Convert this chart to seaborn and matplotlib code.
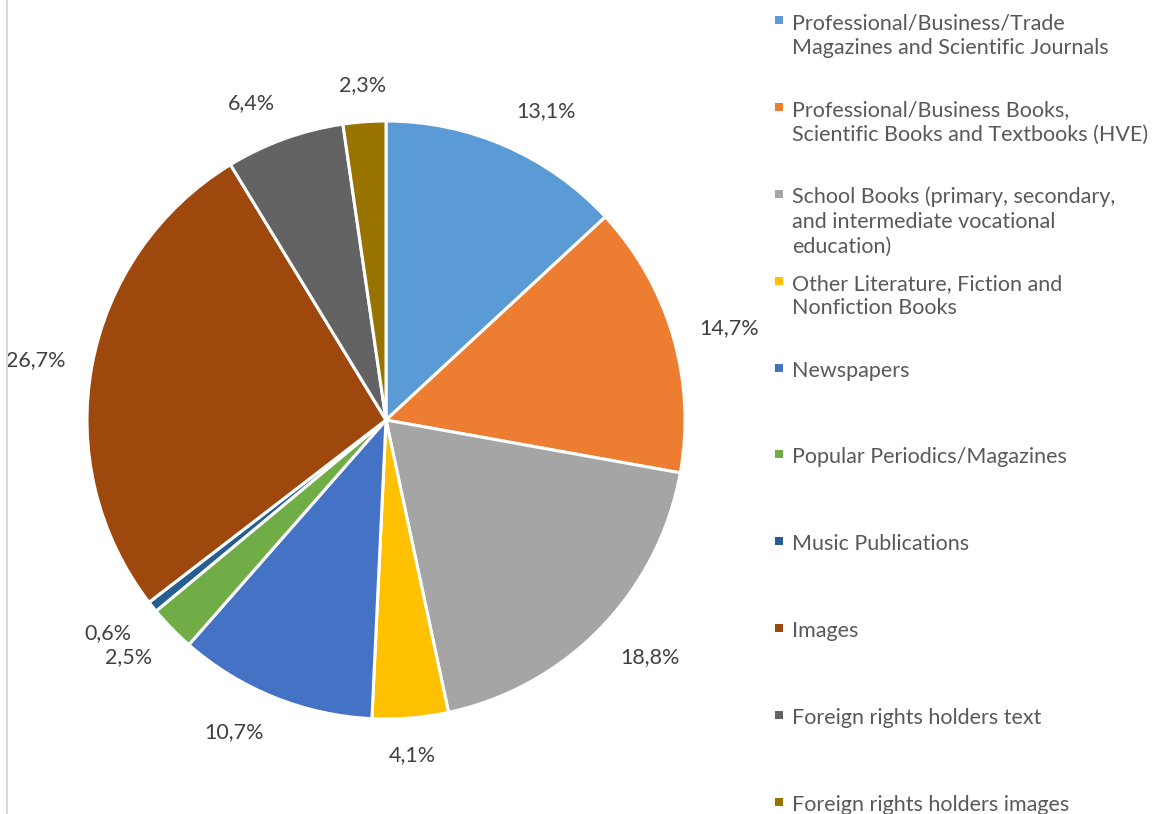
import numpy as np
import matplotlib
matplotlib.use("Agg")
import matplotlib.pyplot as plt
import seaborn as sns
from matplotlib.lines import Line2D
from matplotlib.patches import Rectangle

# Share of distributed reprographic revenue per rights-holder category
categories = [
    "Professional/Business/Trade\nMagazines and Scientific Journals",
    "Professional/Business Books,\nScientific Books and Textbooks (HVE)",
    "School Books (primary, secondary,\nand intermediate vocational\neducation)",
    "Other Literature, Fiction and\nNonfiction Books",
    "Newspapers",
    "Popular Periodics/Magazines",
    "Music Publications",
    "Images",
    "Foreign rights holders text",
    "Foreign rights holders images",
]
shares = [13.1, 14.7, 18.8, 4.1, 10.7, 2.5, 0.6, 26.7, 6.4, 2.3]
colors = ["#5B9BD5", "#ED7D31", "#A5A5A5", "#FFC000", "#4472C4",
          "#70AD47", "#255E91", "#9E480E", "#636363", "#997300"]

sns.set_theme(style="white")
plt.rcParams["font.family"] = ["Lato", "DejaVu Sans"]

W, H = 1156, 814
fig = plt.figure(figsize=(W / 100, H / 100), dpi=100)
fig.patch.set_facecolor("white")

# Pie axes: a square 600 px region centred on the left part of the canvas
cx, cy, r = 386, 420, 299
ax = fig.add_axes([(cx - r) / W, (H - cy - r) / H, 2 * r / W, 2 * r / H])

palette = sns.color_palette(colors)
wedges, _ = ax.pie(
    shares, colors=palette, startangle=90, counterclock=False, radius=1,
    wedgeprops=dict(edgecolor="white", linewidth=2.2),
)
ax.set_xlim(-1, 1)
ax.set_ylim(-1, 1)
ax.axis("off")

# Percentage labels just outside each wedge, aligned away from the pie
dist = 1.09
for w, v in zip(wedges, shares):
    ang = np.deg2rad((w.theta1 + w.theta2) / 2)
    c, s = np.cos(ang), np.sin(ang)
    ha = "left" if c > 0.3 else ("right" if c < -0.3 else "center")
    va = "bottom" if s > 0.3 else ("top" if s < -0.3 else "center")
    ax.text(dist * c, dist * s, f"{v:.1f}%".replace(".", ","),
            ha=ha, va=va, fontsize=15.5, color="#404040", clip_on=False)

# Legend: evenly spaced entries with square markers
y0, y1 = 20, 802
step = (y1 - y0) / (len(categories) - 1)
for i, (lab, col) in enumerate(zip(categories, palette)):
    y = y0 + i * step
    fig.add_artist(Rectangle((775 / W, (H - y - 4) / H), 8 / W, 8 / H,
                             transform=fig.transFigure, facecolor=col,
                             edgecolor="none"))
    fig.text(792 / W, (H - y + 7) / H, lab, ha="left", va="top",
             fontsize=15.5, color="#595959", linespacing=1.3)

# Thin frame edge at the left
fig.add_artist(Line2D([7 / W, 7 / W], [0, 1], transform=fig.transFigure,
                      color="#D9D9D9", linewidth=1.5))

fig.savefig("out.png", dpi=100, facecolor="white")
